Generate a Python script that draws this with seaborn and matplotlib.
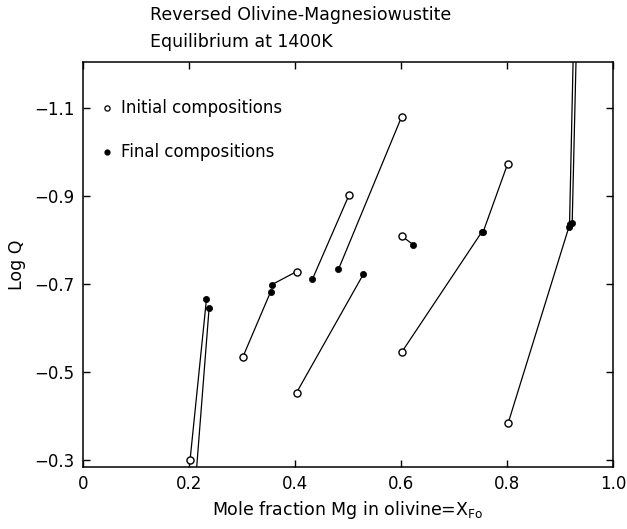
import matplotlib
matplotlib.use("Agg")
import matplotlib.pyplot as plt
import seaborn as sns
import pandas as pd
import numpy as np

# Data (segments: initial -> final compositions)
x_initial = [0.202, 0.210, 0.302, 0.403, 0.403, 0.502, 0.601, 0.602, 0.602, 0.801, 0.802, 0.930, 0.936]
y_initial = [-0.300, -0.214, -0.535, -0.728, -0.453, -0.902, -1.079, -0.808, -0.546, -0.972, -0.383, -1.500, -1.500]
x_final = [0.233, 0.238, 0.354, 0.356, 0.529, 0.433, 0.482, 0.623, 0.752, 0.755, 0.917, 0.918, 0.923]
y_final = [-0.666, -0.646, -0.682, -0.698, -0.722, -0.711, -0.733, -0.789, -0.817, -0.818, -0.830, -0.835, -0.839]

x_ticks = [0, 0.2, 0.4, 0.6, 0.8, 1.0]
x_tick_labels = ["0", "0.2", "0.4", "0.6", "0.8", "1.0"]
y_ticks = [-0.3, -0.5, -0.7, -0.9, -1.1]
y_tick_labels = ["\u22120.3", "\u22120.5", "\u22120.7", "\u22120.9", "\u22121.1"]

sns.set_style("ticks")
plt.rcParams['font.family'] = ['DejaVu Sans']
plt.rcParams['text.color'] = 'black'
plt.rcParams['axes.labelcolor'] = 'black'
plt.rcParams['xtick.color'] = 'black'
plt.rcParams['ytick.color'] = 'black'

n = len(x_initial)
seg = pd.DataFrame({
    "seg": list(range(n)) * 2,
    "order": [0] * n + [1] * n,
    "x": x_initial + x_final,
    "y": y_initial + y_final,
})
init_df = pd.DataFrame({"x": x_initial, "y": y_initial})
final_df = pd.DataFrame({"x": x_final, "y": y_final})

fig = plt.figure(figsize=(6.27, 5.29), dpi=100)
ax = fig.add_axes([83 / 627, 1 - 467 / 529, 530 / 627, 405 / 529])

sns.lineplot(data=seg, x="x", y="y", units="seg", estimator=None, sort=False,
             color="black", linewidth=0.9, ax=ax, legend=False)
sns.scatterplot(data=final_df, x="x", y="y", marker="o", s=20, color="black",
                edgecolor="black", linewidth=0.5, ax=ax, zorder=3)
sns.scatterplot(data=init_df, x="x", y="y", marker="o", s=26, facecolor="white",
                edgecolor="black", linewidth=1.0, ax=ax, zorder=4)

ax.set_xlim(0, 1.0)
ax.set_ylim(-0.284, -1.204)
ax.set_xticks(x_ticks)
ax.set_xticklabels(x_tick_labels)
ax.set_yticks(y_ticks)
ax.set_yticklabels(y_tick_labels)
ax.tick_params(direction="in", top=True, right=True, length=5, width=1,
               labelsize=12, pad=6, colors="black")
for s in ax.spines.values():
    s.set_visible(True)
    s.set_linewidth(1.1)
    s.set_color("black")

ax.set_xlabel("Mole fraction Mg in olivine=X$_{\\mathrm{Fo}}$", fontsize=12.5,
              labelpad=4, color="black")
ax.set_ylabel("Log Q", fontsize=12.5, labelpad=6, color="black")

# Legend-like annotations
ax.scatter([0.045], [-1.100], s=14, facecolor="white", edgecolor="black",
           linewidth=0.9, zorder=5)
ax.scatter([0.045], [-1.000], s=12, color="black", zorder=5)
ax.text(0.072, -1.100, "Initial compositions", fontsize=12, va="center", ha="left",
        color="black")
ax.text(0.072, -1.000, "Final compositions", fontsize=12, va="center", ha="left",
        color="black")

fig.text(150 / 627, 1 - 15 / 529, "Reversed Olivine-Magnesiowustite",
         fontsize=12.5, ha="left", va="center", color="black")
fig.text(150 / 627, 1 - 42 / 529, "Equilibrium at 1400K",
         fontsize=12.5, ha="left", va="center", color="black")

fig.savefig("out.png", dpi=100)
